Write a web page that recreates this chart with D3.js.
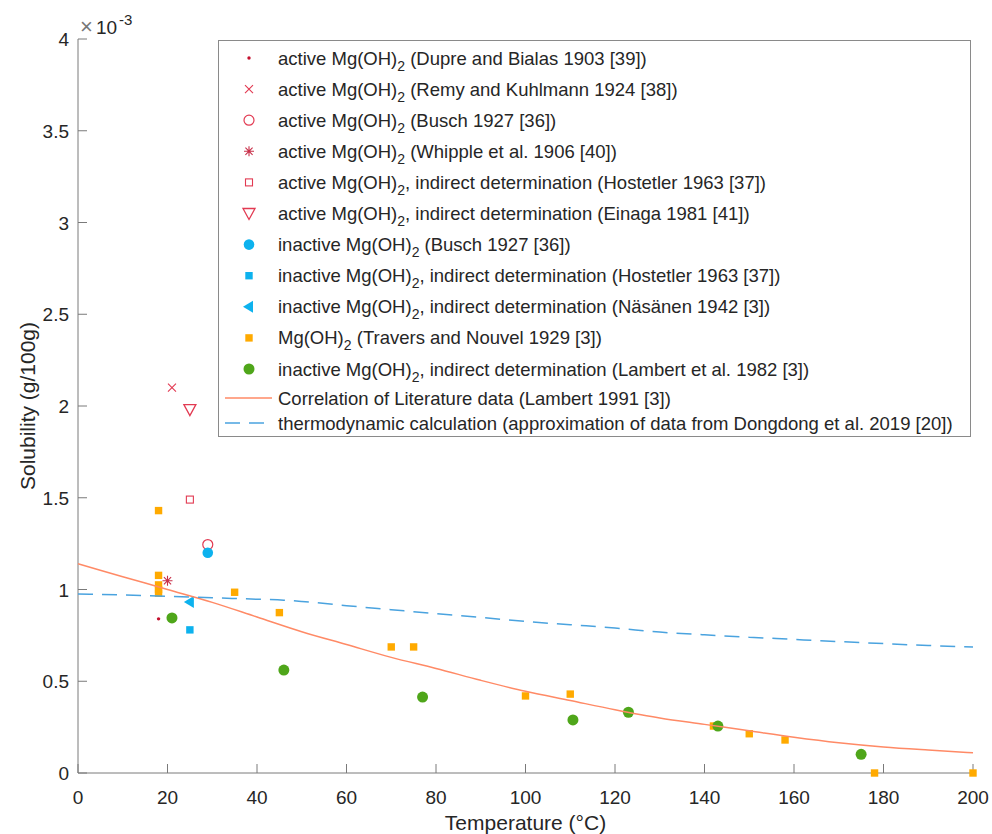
<!DOCTYPE html>
<html><head><meta charset="utf-8">
<script src="https://cdn.jsdelivr.net/npm/d3@7"></script>
<style>body{margin:0;background:#fff}svg{display:block;font-family:"Liberation Sans",Arial,Helvetica,sans-serif}</style>
</head><body><svg id="c" width="992" height="834"></svg>
<script>
// ---- data (values in units of 1e-3 g/100g) ----
const dupreT=[18], dupreS=[0.84];
const remyT=[21], remyS=[2.10];
const buschActT=[29], buschActS=[1.245];
const whippleT=[20], whippleS=[1.048];
const hostActT=[25], hostActS=[1.49];
const einagaT=[25], einagaS=[1.98];
const buschInT=[29], buschInS=[1.20];
const hostInT=[25], hostInS=[0.78];
const nasT=[25], nasS=[0.932];
const traversT=[18,18,18,18,18,35,45,70,75,100,110,142,150,158,178,200];
const traversS=[1.43,1.077,1.025,1.0,0.98,0.985,0.874,0.687,0.687,0.42,0.43,0.256,0.214,0.18,0,0];
const lambert82T=[21,46,77,110.6,123,143,175];
const lambert82S=[0.845,0.561,0.414,0.289,0.331,0.256,0.102];
const corrT=[0,10,20,30,40,50,60,70,80,90,100,110,120,130,140,150,160,170,180,190,200];
const corrS=[1.14,1.07,1.0,0.93,0.85,0.77,0.70,0.63,0.57,0.505,0.445,0.395,0.345,0.30,0.265,0.23,0.195,0.165,0.142,0.125,0.11];
const thermoT=[0,10,20,30,40,46,50,60,70,80,90,100,110,120,130,140,150,160,170,180,190,200];
const thermoS=[0.975,0.97,0.963,0.955,0.947,0.942,0.935,0.912,0.89,0.868,0.848,0.826,0.808,0.79,0.768,0.753,0.74,0.728,0.716,0.705,0.695,0.687];
const xTicks=[0,20,40,60,80,100,120,140,160,180,200];
const yTicks=[0,0.5,1,1.5,2,2.5,3,3.5,4];
const legendLabels=[
 "active Mg(OH)_2 (Dupre and Bialas 1903 [39])",
 "active Mg(OH)_2 (Remy and Kuhlmann 1924 [38])",
 "active Mg(OH)_2 (Busch 1927 [36])",
 "active Mg(OH)_2 (Whipple et al. 1906 [40])",
 "active Mg(OH)_2, indirect determination (Hostetler 1963 [37])",
 "active Mg(OH)_2, indirect determination (Einaga 1981 [41])",
 "inactive Mg(OH)_2 (Busch 1927 [36])",
 "inactive Mg(OH)_2, indirect determination (Hostetler 1963 [37])",
 "inactive Mg(OH)_2, indirect determination (Näsänen 1942 [3])",
 "Mg(OH)_2 (Travers and Nouvel 1929 [3])",
 "inactive Mg(OH)_2, indirect determination (Lambert et al. 1982 [3])",
 "Correlation of Literature data (Lambert 1991 [3])",
 "thermodynamic calculation (approximation of data from Dongdong et al. 2019 [20])"
];

// ---- layout ----
const svg=d3.select("#c");
const L=78,R=973,T=39,B=773;
const x=d3.scaleLinear().domain([0,200]).range([L,R]);
const y=d3.scaleLinear().domain([0,4]).range([B,T]);
const axisCol="#7a7a7a", textCol="#262626";
const red="#e23a52", darkRed="#c4102e", cyan="#0db2ee", orange="#ffaa00", green="#4fa61a", salmon="#ff8a66", blue="#4aa3df";

function marker(g,type,cx,cy){
  switch(type){
    case "dot": g.append("circle").attr("cx",cx).attr("cy",cy).attr("r",1.7).attr("fill",darkRed);break;
    case "x": g.append("path").attr("d",`M${cx-4},${cy-4}L${cx+4},${cy+4}M${cx-4},${cy+4}L${cx+4},${cy-4}`).attr("stroke",red).attr("stroke-width",1.1).attr("fill","none");break;
    case "ocircle": g.append("circle").attr("cx",cx).attr("cy",cy).attr("r",5).attr("fill","none").attr("stroke",red).attr("stroke-width",1.2);break;
    case "star": g.append("path").attr("d",`M${cx-5},${cy}L${cx+5},${cy}M${cx},${cy-5}L${cx},${cy+5}M${cx-3.6},${cy-3.6}L${cx+3.6},${cy+3.6}M${cx-3.6},${cy+3.6}L${cx+3.6},${cy-3.6}`).attr("stroke","#c8304a").attr("stroke-width",1.1).attr("fill","none");break;
    case "osquare": g.append("rect").attr("x",cx-3.5).attr("y",cy-3.5).attr("width",7).attr("height",7).attr("fill","none").attr("stroke",red).attr("stroke-width",1.1);break;
    case "dtri": g.append("path").attr("d",`M${cx-6},${cy-5}L${cx+6},${cy-5}L${cx},${cy+6}Z`).attr("fill","none").attr("stroke",red).attr("stroke-width",1.3);break;
    case "fcircle": g.append("circle").attr("cx",cx).attr("cy",cy).attr("r",5.3).attr("fill",cyan);break;
    case "fsquare": g.append("rect").attr("x",cx-3.7).attr("y",cy-3.7).attr("width",7.4).attr("height",7.4).attr("fill",cyan);break;
    case "ltri": g.append("path").attr("d",`M${cx-6},${cy}L${cx+4},${cy-6}L${cx+4},${cy+6}Z`).attr("fill",cyan);break;
    case "osq": g.append("rect").attr("x",cx-3.7).attr("y",cy-3.7).attr("width",7.4).attr("height",7.4).attr("fill",orange);break;
    case "gcircle": g.append("circle").attr("cx",cx).attr("cy",cy).attr("r",5.5).attr("fill",green);break;
  }
}

// axes
const ax=svg.append("g");
ax.append("line").attr("x1",L).attr("x2",L).attr("y1",T).attr("y2",B).attr("stroke",axisCol);
ax.append("line").attr("x1",L).attr("x2",R).attr("y1",B).attr("y2",B).attr("stroke",axisCol);
xTicks.forEach(t=>{
  ax.append("line").attr("x1",x(t)).attr("x2",x(t)).attr("y1",B).attr("y2",B-9).attr("stroke",axisCol);
  ax.append("text").attr("x",x(t)).attr("y",B+31).attr("text-anchor","middle").attr("font-size",19).attr("fill",textCol).text(t);
});
yTicks.forEach(t=>{
  ax.append("line").attr("x1",L).attr("x2",L+9).attr("y1",y(t)).attr("y2",y(t)).attr("stroke",axisCol);
  ax.append("text").attr("x",L-9).attr("y",y(t)+7).attr("text-anchor","end").attr("font-size",19).attr("fill",textCol).text(t);
});
// exponent
ax.append("text").attr("x",80).attr("y",34).attr("font-size",22).attr("fill","#777").text("×");
ax.append("text").attr("x",96).attr("y",34).attr("font-size",19).attr("fill",textCol).text("10");
ax.append("text").attr("x",119).attr("y",25).attr("font-size",15).attr("fill",textCol).text("-3");
// axis labels
ax.append("text").attr("x",x(100)).attr("y",830).attr("text-anchor","middle").attr("font-size",21).attr("fill",textCol).text("Temperature (°C)");
ax.append("text").attr("transform",`translate(35,${(T+B)/2}) rotate(-90)`).attr("text-anchor","middle").attr("font-size",21).attr("fill",textCol).text("Solubility (g/100g)");

// series
const series=[
 {t:dupreT,s:dupreS,m:"dot"},{t:remyT,s:remyS,m:"x"},{t:buschActT,s:buschActS,m:"ocircle"},
 {t:whippleT,s:whippleS,m:"star"},{t:hostActT,s:hostActS,m:"osquare"},{t:einagaT,s:einagaS,m:"dtri"},
 {t:buschInT,s:buschInS,m:"fcircle"},{t:hostInT,s:hostInS,m:"fsquare"},{t:nasT,s:nasS,m:"ltri"},
 {t:traversT,s:traversS,m:"osq"},{t:lambert82T,s:lambert82S,m:"gcircle"}
];
const pg=svg.append("g");
series.forEach(se=>se.t.forEach((t,i)=>marker(pg,se.m,x(t),y(se.s[i]))));
const line=d3.line().curve(d3.curveMonotoneX);
svg.append("path").attr("d",line(corrT.map((t,i)=>[x(t),y(corrS[i])]))).attr("fill","none").attr("stroke",salmon).attr("stroke-width",1.5);
svg.append("path").attr("d",line(thermoT.map((t,i)=>[x(t),y(thermoS[i])]))).attr("fill","none").attr("stroke",blue).attr("stroke-width",1.5).attr("stroke-dasharray","15,9");

// legend
const lg=svg.append("g");
lg.append("rect").attr("x",218.5).attr("y",40.5).attr("width",752).attr("height",396).attr("fill","#fff").attr("stroke","#8a8a8a");
const rowsY=legendLabels.map((d,i)=> i<11 ? 58+31.1*i : (i===11?398:423));
legendLabels.forEach((lab,i)=>{
  const cy=rowsY[i];
  if(i<11) marker(lg,series[i].m,249,cy);
  else if(i===11) lg.append("line").attr("x1",225).attr("x2",272).attr("y1",cy).attr("y2",cy).attr("stroke",salmon).attr("stroke-width",1.5);
  else lg.append("line").attr("x1",225).attr("x2",272).attr("y1",cy).attr("y2",cy).attr("stroke",blue).attr("stroke-width",1.5).attr("stroke-dasharray","15,9");
  const parts=lab.split("_2");
  const tx=lg.append("text").attr("x",278).attr("y",cy+6.5).attr("font-size",18.5).attr("fill",textCol);
  tx.append("tspan").text(parts[0]);
  if(parts.length>1){
    tx.append("tspan").attr("dy",6).attr("font-size",14).text("2");
    tx.append("tspan").attr("dy",-6).text(parts[1]);
  }
});
</script></body></html>
